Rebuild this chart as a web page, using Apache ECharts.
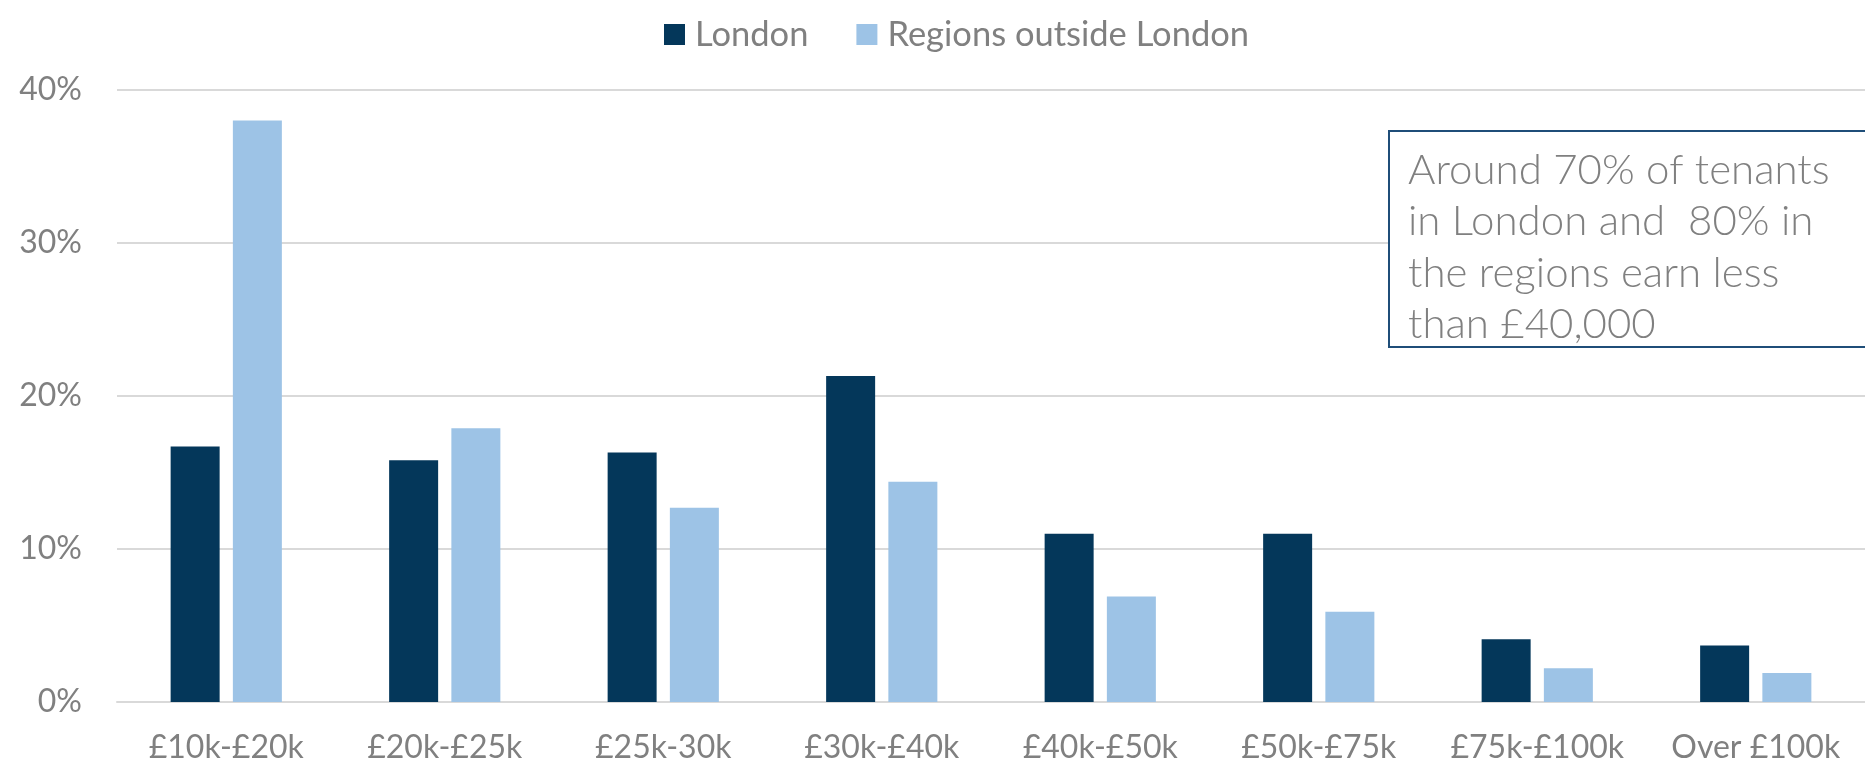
<!DOCTYPE html>
<html>
<head>
<meta charset="utf-8">
<script src="https://cdn.jsdelivr.net/npm/echarts@6/dist/echarts.min.js"></script>
<style>
html, body { margin: 0; padding: 0; background: #ffffff; }
#chart { width: 1865px; height: 767px; }
</style>
</head>
<body>
<div id="chart"></div>
<script>
const categories = ['£10k-£20k', '£20k-£25k', '£25k-30k', '£30k-£40k', '£40k-£50k', '£50k-£75k', '£75k-£100k', 'Over £100k'];
const seriesNames = ['London', 'Regions outside London'];
const london = [16.7, 15.8, 16.3, 21.3, 11.0, 11.0, 4.1, 3.7];
const regions = [38.0, 17.9, 12.7, 14.4, 6.9, 5.9, 2.2, 1.9];
const yMin = 0, yMax = 40, yStep = 10;
const noteLines = ['Around 70% of tenants', 'in London and  80% in', 'the regions earn less', 'than £40,000'];

const chart = echarts.init(document.getElementById('chart'), null, { renderer: 'canvas' });
const grey = '#808080';
chart.setOption({
  animation: false,
  backgroundColor: '#ffffff',
  legend: {
    left: 659,
    top: 12,
    itemWidth: 21,
    itemHeight: 21,
    itemGap: 48,
    icon: 'rect',
    textStyle: { color: grey, fontSize: 34.5, fontFamily: 'Lato', padding: [0, 0, 0, 5] },
    data: seriesNames
  },
  grid: { left: 117, right: 0, top: 90, bottom: 65, outerBoundsMode: 'none' },
  xAxis: {
    type: 'category',
    data: categories,
    axisTick: { show: false },
    axisLine: { lineStyle: { color: '#d9d9d9', width: 2 } },
    axisLabel: { color: grey, fontSize: 32, fontFamily: 'Lato', margin: 30, interval: 0 }
  },
  yAxis: {
    type: 'value',
    min: yMin, max: yMax, interval: yStep,
    axisLine: { show: false },
    axisTick: { show: false },
    splitLine: { lineStyle: { color: '#d9d9d9', width: 2 } },
    axisLabel: { color: grey, fontSize: 32, fontFamily: 'Lato', margin: 35, formatter: '{value}%' }
  },
  series: [
    { name: seriesNames[0], type: 'bar', data: london, barWidth: 49, barGap: '27%',
      itemStyle: { color: '#04375A' } },
    { name: seriesNames[1], type: 'bar', data: regions, barWidth: 49, barGap: '27%',
      itemStyle: { color: '#9DC3E6' } }
  ],
  graphic: [
    { type: 'rect', shape: { x: 1389, y: 131, width: 500, height: 216 },
      style: { fill: '#ffffff', stroke: '#1F4E79', lineWidth: 2 }, z: 100 },
    { type: 'text', x: 1408, y: 145, z: 101,
      style: { text: noteLines.join('\n'), fill: grey, font: '300 42px Lato', lineHeight: 51.2 } }
  ]
});
</script>
</body>
</html>
